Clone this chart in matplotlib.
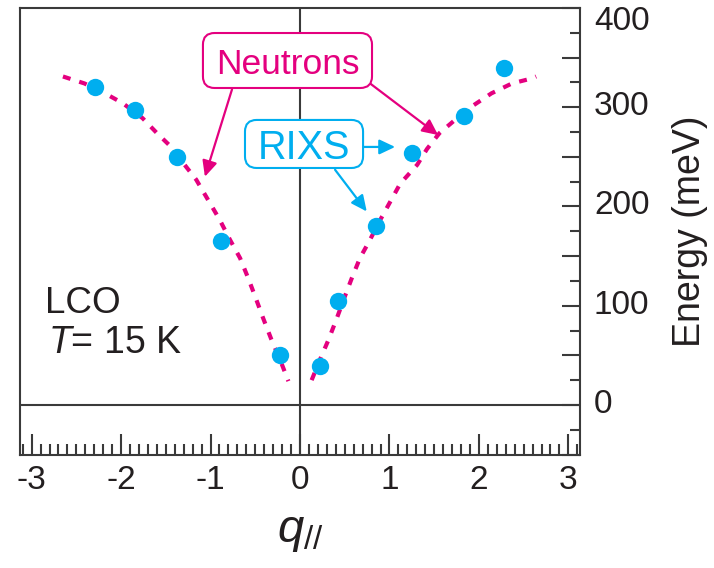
import matplotlib
matplotlib.use("Agg")
import matplotlib.pyplot as plt
import matplotlib.transforms as mtransforms
from matplotlib.patches import FancyBboxPatch
from matplotlib.ticker import MultipleLocator, FixedLocator, FuncFormatter

plt.rcParams['font.family'] = ['Liberation Sans', 'DejaVu Sans']
plt.rcParams['mathtext.fontset'] = 'custom'
plt.rcParams['mathtext.rm'] = 'Liberation Sans'
plt.rcParams['mathtext.it'] = 'Liberation Sans:italic'

# RIXS magnon energies (meV) versus in-plane momentum
rixs_q = [-2.29, -1.85, -1.37, -0.88, -0.22, 0.22, 0.42, 0.85, 1.25, 1.83, 2.28]
rixs_E = [320, 297, 250, 165, 50, 39, 105, 180, 254, 291, 340]

# Neutron dispersion, negative-q branch
neut_q_left = [-2.65, -2.41, -2.16, -1.98, -1.76, -1.60, -1.44, -1.29, -1.16, -1.03,
               -0.90, -0.78, -0.67, -0.58, -0.50, -0.41, -0.32, -0.22, -0.13]
neut_E_left = [331, 324, 313, 304, 289, 274, 260, 242, 227, 207,
               187, 166, 148, 128, 109, 87, 66, 45, 24]

# Neutron dispersion, positive-q branch
neut_q_right = [0.13, 0.22, 0.32, 0.41, 0.50, 0.58, 0.67, 0.78, 0.90, 1.01,
                1.12, 1.31, 1.42, 1.56, 1.73, 1.94, 2.14, 2.37, 2.59, 2.64]
neut_E_right = [25, 45, 66, 87, 109, 128, 148, 166, 187, 205,
                223, 242, 258, 274, 287, 302, 314, 324, 329, 331]

x_ticks = [-3, -2, -1, 0, 1, 2, 3]
y_ticks = [0, 100, 200, 300, 400]

MAGENTA = '#E4007F'
CYAN = '#00AEEF'
INK = '#231F20'
AXIS = '#3a3a3a'

fig = plt.figure(figsize=(7.14, 5.68), dpi=100)
ax = fig.add_axes([20 / 714, 1 - 455 / 568, 560 / 714, 447 / 568])
ax.set_xlim(-3.13, 3.13)
ax.set_ylim(-50.4, 400)

# zero lines
ax.axhline(0, color=AXIS, lw=1.5, zorder=1)
ax.axvline(0, color=AXIS, lw=1.5, zorder=1)

# dispersion curves
for qq, ee in ((neut_q_left, neut_E_left), (neut_q_right, neut_E_right)):
    ax.plot(qq, ee, color=MAGENTA, lw=3.0, dashes=(1.9, 2.2), zorder=2)

ax.plot(rixs_q, rixs_E, 'o', color=CYAN, ms=12.5, mec='none', zorder=3)

# spines and ticks
for s in ax.spines.values():
    s.set_color(AXIS)
    s.set_linewidth(1.5)

ax.xaxis.set_major_locator(FixedLocator(x_ticks))
ax.xaxis.set_minor_locator(MultipleLocator(0.1))
ax.tick_params(axis='x', which='major', direction='in', length=15, width=1.5,
               color=AXIS, labelsize=24, labelcolor=INK, pad=7, top=False)
ax.tick_params(axis='x', which='minor', direction='in', length=8, width=1.5,
               color=AXIS, top=False)
ax.set_xticklabels([str(t) for t in x_ticks])

ax.yaxis.tick_right()
ax.yaxis.set_label_position('right')
ax.yaxis.set_major_locator(MultipleLocator(50))
ax.yaxis.set_minor_locator(MultipleLocator(25))
ax.yaxis.set_major_formatter(FuncFormatter(
    lambda v, p: f'{int(round(v))}' if int(round(v)) in y_ticks else ''))
ax.tick_params(axis='y', which='major', direction='in', length=13, width=1.5,
               color=AXIS, labelsize=24, labelcolor=INK, pad=10, left=False)
ax.tick_params(axis='y', which='minor', direction='in', length=7, width=1.5,
               color=AXIS, left=False)

ax.set_xlabel(r'$q_{//}$', fontsize=34, color=INK, labelpad=10)
ax.set_ylabel('Energy (meV)', fontsize=27, color=INK, labelpad=16)

# sample info
ax.text(-2.85, 93, 'LCO', fontsize=26.5, color=INK, ha='left', va='baseline')
ax.text(-2.82, 52, r'$T$= 15 K', fontsize=27, color=INK, ha='left', va='baseline')

# rounded label boxes (corner radius kept circular on screen)
aspect = (450.4 / 447) / (6.26 / 560)


def label_box(x0, x1, y0, y1, color):
    ax.add_patch(FancyBboxPatch((x0, y0), x1 - x0, y1 - y0,
                                boxstyle='round,pad=0,rounding_size=0.13',
                                mutation_aspect=aspect, fc='white', ec=color,
                                lw=1.5, zorder=5))


label_box(-1.085, 0.805, 319.4, 374.8, MAGENTA)
ax.text(-0.14, 347, 'Neutrons', fontsize=25.5, color=MAGENTA, ha='center',
        va='center_baseline', zorder=6)
label_box(-0.615, 0.705, 238.8, 287.2, CYAN)
ax.text(0.045, 263, 'RIXS', fontsize=28.5, color=CYAN, ha='center',
        va='center_baseline', zorder=6)

arrow_kw = dict(arrowstyle='-|>,head_length=0.95,head_width=0.45', lw=1.6,
                shrinkA=0, shrinkB=0)
ax.annotate('', xy=(-1.063, 230), xytext=(-0.76, 318),
            arrowprops=dict(color=MAGENTA, **arrow_kw), zorder=4)
ax.annotate('', xy=(1.544, 272), xytext=(0.783, 324),
            arrowprops=dict(color=MAGENTA, **arrow_kw), zorder=4)
ax.annotate('', xy=(1.063, 260), xytext=(0.705, 260),
            arrowprops=dict(color=CYAN, **arrow_kw), zorder=4)
ax.annotate('', xy=(0.746, 195), xytext=(0.392, 237),
            arrowprops=dict(color=CYAN, **arrow_kw), zorder=4)

# nudge the energy tick labels: slightly above their ticks, top one inside the frame
fig.canvas.draw()
for tick in ax.yaxis.get_major_ticks():
    loc = tick.get_loc()
    dy = -10 if abs(loc - 400) < 1e-6 else 4
    off = mtransforms.ScaledTranslation(0, dy / 100, fig.dpi_scale_trans)
    tick.label2.set_transform(tick.label2.get_transform() + off)

fig.savefig('out.png', dpi=100)
